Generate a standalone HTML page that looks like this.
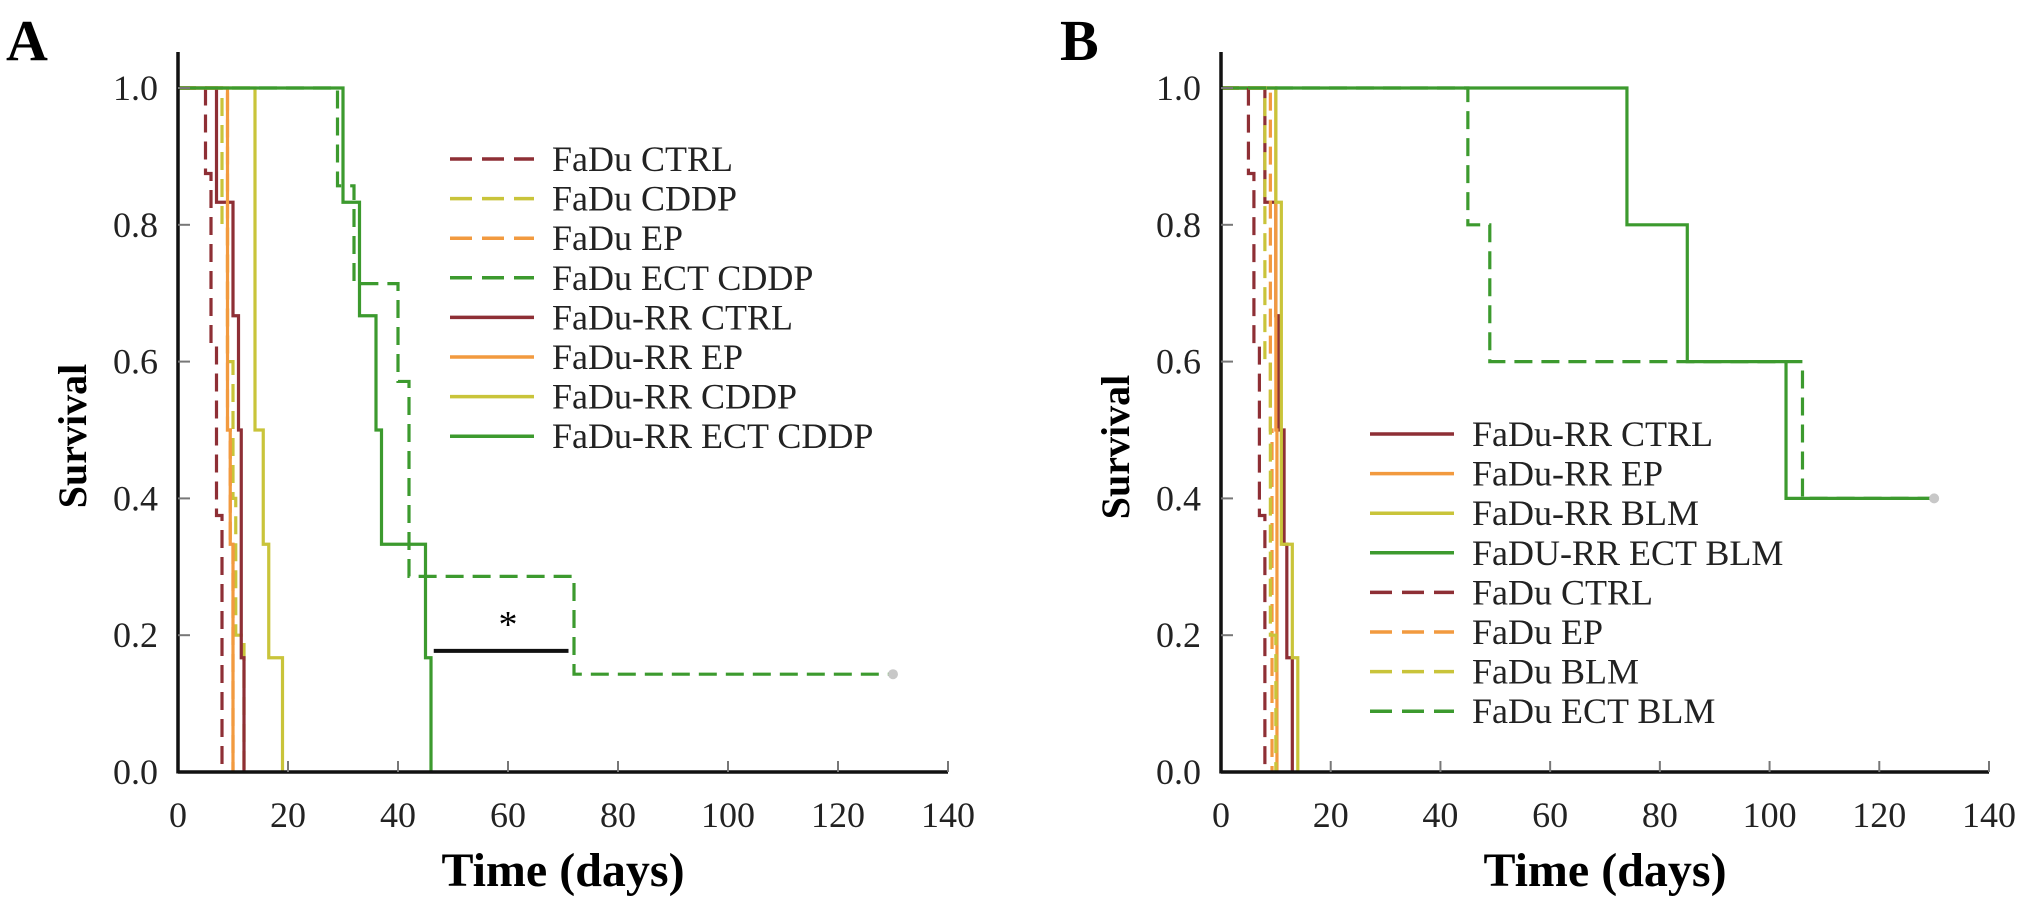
<!DOCTYPE html>
<html><head><meta charset="utf-8"><style>
html,body{margin:0;padding:0;background:#fff;}
svg{display:block;font-family:"Liberation Serif",serif;}
</style></head><body>
<svg id="chart" width="2031" height="905" viewBox="0 0 2031 905">
<text x="6" y="60" font-size="58" font-weight="bold">A</text>
<text x="1060" y="60" font-size="58" font-weight="bold">B</text>
</svg>
<script>
// x ticks / y ticks
const xTicks = [0,20,40,60,80,100,120,140];
const yTicks = [0,0.2,0.4,0.6,0.8,1.0];
const yTickLabels = ["0.0","0.2","0.4","0.6","0.8","1.0"];

// Panel A series: step times (days) and survival after each step
const aNames = ["FaDu CTRL","FaDu CDDP","FaDu EP","FaDu ECT CDDP","FaDu-RR CTRL","FaDu-RR EP","FaDu-RR CDDP","FaDu-RR ECT CDDP"];
const aTimes = [
  [0,5,6,7,8],
  [0,8,9,10,10.5,12],
  [0,9,9.5,10],
  [0,29,32,40,42,72,130],
  [0,7,10,11,11.5,12],
  [0,9,9.5,10],
  [0,14,15.5,16.5,19],
  [0,30,33,36,37,45,46]
];
const aSurv = [
  [1,0.875,0.625,0.375,0],
  [1,0.8,0.6,0.4,0.2,0],
  [1,0.5,0.333,0],
  [1,0.857,0.714,0.571,0.286,0.143,0.143],
  [1,0.833,0.667,0.5,0.167,0],
  [1,0.5,0.333,0],
  [1,0.5,0.333,0.167,0],
  [1,0.833,0.667,0.5,0.333,0.167,0]
];
const aDashed = [true,true,true,true,false,false,false,false];
const aColors = ["#8e2f35","#c9c43a","#f29a3f","#3c9a2e","#8e2f35","#f29a3f","#c9c43a","#3c9a2e"];

// Panel B series
const bNames = ["FaDu-RR CTRL","FaDu-RR EP","FaDu-RR BLM","FaDU-RR ECT BLM","FaDu CTRL","FaDu EP","FaDu BLM","FaDu ECT BLM"];
const bTimes = [
  [0,8,10,10.5,11.5,12,13],
  [0,10,10.2],
  [0,10,11,13,14],
  [0,74,85,103,130],
  [0,5,6,7,8],
  [0,9,9.3],
  [0,8,9,10],
  [0,45,49,106,130]
];
const bSurv = [
  [1,0.833,0.667,0.5,0.333,0.167,0],
  [1,0.5,0],
  [1,0.833,0.333,0.167,0],
  [1,0.8,0.6,0.4,0.4],
  [1,0.875,0.625,0.375,0],
  [1,0.5,0],
  [1,0.6,0.2,0],
  [1,0.8,0.6,0.4,0.4]
];
const bDashed = [false,false,false,false,true,true,true,true];
const bColors = ["#8e2f35","#f29a3f","#c9c43a","#3c9a2e","#8e2f35","#f29a3f","#c9c43a","#3c9a2e"];

const NS="http://www.w3.org/2000/svg";
const svg=document.getElementById('chart');
function mk(tag,attrs,parent){const e=document.createElementNS(NS,tag);for(const k in attrs)e.setAttribute(k,attrs[k]);(parent||svg).appendChild(e);return e;}

function panel(p){
  const g=mk('g',{});
  
  
  const sx=v=>p.x0+(v/140)*(p.x1-p.x0);
  const sy=v=>p.y0+(1-v)*(p.yBase-p.y0);
  p.times.forEach((ts,i)=>{
    let d='M'+sx(ts[0])+','+sy(p.surv[i][0]);
    for(let k=1;k<ts.length;k++){
      d+=' H'+sx(ts[k])+' V'+sy(p.surv[i][k]);
    }
    const path=mk('path',{d:d,fill:'none',stroke:p.colors[i],'stroke-width':3.2,'stroke-dasharray':p.dashed[i]?'18,9':'none'},g);
    
    
  });
  p.censor.forEach(c=>{
    const m=mk('circle',{cx:sx(c[0]),cy:sy(c[1]),r:5,fill:'#c8c8c8'},g);
    
    
  });
  const ya=mk('line',{x1:p.x0,y1:52,x2:p.x0,y2:p.yBase+1.5,stroke:'#111','stroke-width':3.5},g);
  
  
  const xa=mk('line',{x1:p.x0,y1:p.yBase,x2:p.x1,y2:p.yBase,stroke:'#111','stroke-width':3.5},g);
  
  
  xTicks.forEach(t=>{
    if(t>0) mk('line',{x1:sx(t),y1:p.yBase,x2:sx(t),y2:p.yBase-11,stroke:'#777','stroke-width':2},g);
    const lb=mk('text',{x:sx(t),y:p.yBase+55,'font-size':36,'text-anchor':'middle',fill:'#222'},g);
    lb.textContent=t;
    
    
  });
  yTicks.forEach((t,i)=>{
    if(t>0) mk('line',{x1:p.x0,y1:sy(t),x2:p.x0+12,y2:sy(t),stroke:'#777','stroke-width':2},g);
    const lb=mk('text',{x:p.x0-20,y:sy(t)+12,'font-size':36,'text-anchor':'end',fill:'#222'},g);
    lb.textContent=yTickLabels[i];
    
    
  });
  const xt=mk('text',{x:(p.x0+p.x1)/2,y:886,'font-size':48,'font-weight':'bold','text-anchor':'middle'},g);
  xt.textContent='Time (days)';
  
  
  const yt=mk('text',{x:0,y:0,'font-size':40,'font-weight':'bold','text-anchor':'middle',transform:'translate('+(p.x0-92)+','+p.yTitle+') rotate(-90)'},g);
  yt.textContent='Survival';
  
  
  p.names.forEach((n,i)=>{
    const y=p.legY+i*39.6;
    const ln=mk('line',{x1:p.legX,y1:y,x2:p.legX+84,y2:y,stroke:p.colors[i],'stroke-width':3.5,'stroke-dasharray':p.dashed[i]?'22,10':'none'},g);
    
    
    const tx=mk('text',{x:p.legX+102,y:y+12,'font-size':36,fill:'#222'},g);
    tx.textContent=n;
    
    
  });
  return {sx,sy,g};
}

const A=panel({id:'panel-a',x0:178,x1:948,y0:88,yBase:772,times:aTimes,surv:aSurv,colors:aColors,dashed:aDashed,names:aNames,censor:[[130,0.143]],legX:450,legY:159,yTitle:436});
const B=panel({id:'panel-b',x0:1221,x1:1989,y0:88,yBase:772,times:bTimes,surv:bSurv,colors:bColors,dashed:bDashed,names:bNames,censor:[[130,0.4]],legX:1370,legY:434,yTitle:447});

const sigBar=mk('line',{x1:A.sx(46.5),y1:A.sy(0.177),x2:A.sx(71),y2:A.sy(0.177),stroke:'#111','stroke-width':4});


const star=mk('text',{x:A.sx(60),y:A.sy(0.177)-14,'font-size':38,'text-anchor':'middle'});
star.textContent='*';


</script>
</body></html>
